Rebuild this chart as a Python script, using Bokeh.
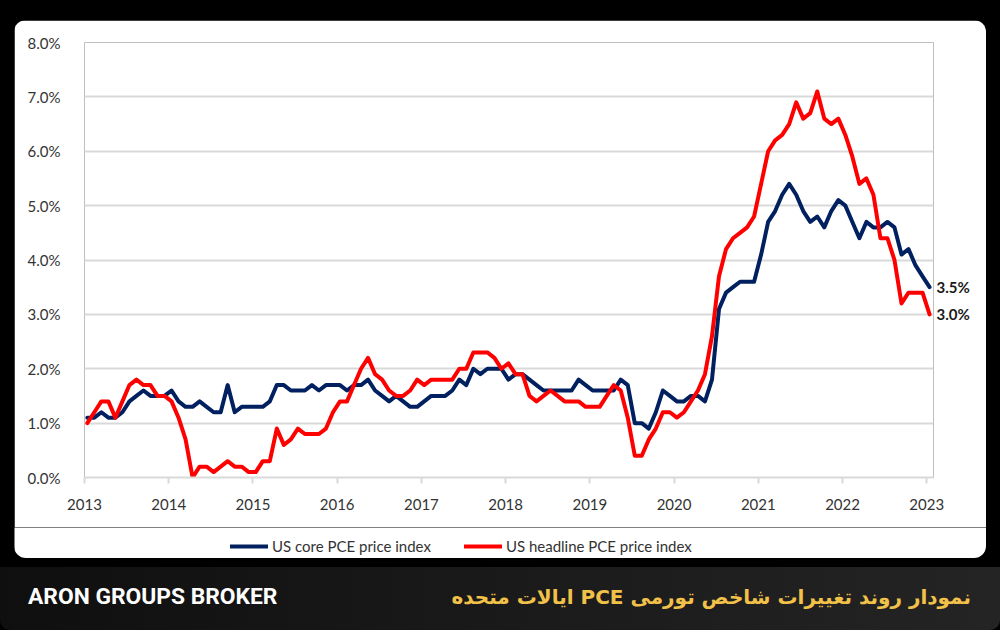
import numpy as np
from bokeh.plotting import figure
from bokeh.models import (Range1d, FixedTicker, PrintfTickFormatter, Legend, LegendItem,
                          LinearAxis, Div)
from bokeh.layouts import column
from bokeh.embed import file_html
from bokeh.resources import INLINE

# ---------------- data (monthly, Jan 2013 .. Jan 2023) ----------------
START_YEAR = 2013
MONTH_SHIFT = 0.4  # points sit slightly after the start of each month

core_2013 = [1.1, 1.1, 1.2, 1.1, 1.1, 1.2, 1.4, 1.5, 1.6, 1.5, 1.5, 1.5]
core_2014 = [1.6, 1.4, 1.3, 1.3, 1.4, 1.3, 1.2, 1.2, 1.7, 1.2, 1.3, 1.3]
core_2015 = [1.3, 1.3, 1.4, 1.7, 1.7, 1.6, 1.6, 1.6, 1.7, 1.6, 1.7, 1.7]
core_2016 = [1.7, 1.6, 1.7, 1.7, 1.8, 1.6, 1.5, 1.4, 1.5, 1.4, 1.3, 1.3]
core_2017 = [1.4, 1.5, 1.5, 1.5, 1.6, 1.8, 1.7, 2.0, 1.9, 2.0, 2.0, 2.0]
core_2018 = [1.8, 1.9, 1.9, 1.8, 1.7, 1.6, 1.6, 1.6, 1.6, 1.6, 1.8, 1.7]
core_2019 = [1.6, 1.6, 1.6, 1.6, 1.8, 1.7, 1.0, 1.0, 0.9, 1.2, 1.6, 1.5]
core_2020 = [1.4, 1.4, 1.5, 1.5, 1.4, 1.8, 3.1, 3.4, 3.5, 3.6, 3.6, 3.6]
core_2021 = [4.1, 4.7, 4.9, 5.2, 5.4, 5.2, 4.9, 4.7, 4.8, 4.6, 4.9, 5.1]
core_2022 = [5.0, 4.7, 4.4, 4.7, 4.6, 4.6, 4.7, 4.6, 4.1, 4.2, 3.9, 3.7]
core_2023 = [3.5]

head_2013 = [1.0, 1.2, 1.4, 1.4, 1.1, 1.4, 1.7, 1.8, 1.7, 1.7, 1.5, 1.5]
head_2014 = [1.4, 1.1, 0.7, 0.0, 0.2, 0.2, 0.1, 0.2, 0.3, 0.2, 0.2, 0.1]
head_2015 = [0.1, 0.3, 0.3, 0.9, 0.6, 0.7, 0.9, 0.8, 0.8, 0.8, 0.9, 1.2]
head_2016 = [1.4, 1.4, 1.7, 2.0, 2.2, 1.9, 1.8, 1.6, 1.5, 1.5, 1.6, 1.8]
head_2017 = [1.7, 1.8, 1.8, 1.8, 1.8, 2.0, 2.0, 2.3, 2.3, 2.3, 2.2, 2.0]
head_2018 = [2.1, 1.9, 1.9, 1.5, 1.4, 1.5, 1.6, 1.5, 1.4, 1.4, 1.4, 1.3]
head_2019 = [1.3, 1.3, 1.5, 1.7, 1.6, 1.1, 0.4, 0.4, 0.7, 0.9, 1.2, 1.2]
head_2020 = [1.1, 1.2, 1.4, 1.6, 1.9, 2.6, 3.7, 4.2, 4.4, 4.5, 4.6, 4.8]
head_2021 = [5.4, 6.0, 6.2, 6.3, 6.5, 6.9, 6.6, 6.7, 7.1, 6.6, 6.5, 6.6]
head_2022 = [6.3, 5.9, 5.4, 5.5, 5.2, 4.4, 4.4, 4.0, 3.2, 3.4, 3.4, 3.4]
head_2023 = [3.0]

core = (core_2013 + core_2014 + core_2015 + core_2016 + core_2017 + core_2018
        + core_2019 + core_2020 + core_2021 + core_2022 + core_2023)
headline = (head_2013 + head_2014 + head_2015 + head_2016 + head_2017 + head_2018
            + head_2019 + head_2020 + head_2021 + head_2022 + head_2023)

year_ticks = [2013, 2014, 2015, 2016, 2017, 2018, 2019, 2020, 2021, 2022, 2023]
pct_ticks = [0, 1, 2, 3, 4, 5, 6, 7, 8]

series_names = ["US core PCE price index", "US headline PCE price index"]
brand = "ARON GROUPS BROKER"
title_fa = "نمودار روند تغییرات شاخص تورمی PCE ایالات متحده"

months = np.arange(len(core))
x = START_YEAR + (months + MONTH_SHIFT) / 12.0

FONT = "Lato"
NAVY = "#002060"
RED = "#FF0000"
LABEL_COLOR = "#333333"

# ---------------- chart panel ----------------
p = figure(frame_width=849, frame_height=435,
           x_range=Range1d(2013, 2023.08), y_range=Range1d(0, 8),
           output_backend="svg", toolbar_location=None,
           min_border_left=70, min_border_right=53, min_border_top=22, min_border_bottom=50,
           background_fill_color="white", border_fill_color="white", outline_line_color=None)
p.frame_align = False
p.margin = (20, 14, 0, 14)
p.styles = {"border-radius": "12px 12px 0 0", "overflow": "hidden"}

p.xgrid.visible = False
p.ygrid.grid_line_color = "#d9d9d9"
p.ygrid.grid_line_width = 2
p.ygrid.ticker = FixedTicker(ticks=pct_ticks)

p.yaxis.ticker = FixedTicker(ticks=pct_ticks)
p.yaxis.formatter = PrintfTickFormatter(format="%.1f%%")
p.yaxis.axis_line_color = None
p.yaxis.major_tick_line_color = None
p.yaxis.minor_tick_line_color = None
p.yaxis.major_label_standoff = 18
p.yaxis.major_label_text_font = FONT
p.yaxis.major_label_text_font_size = "15px"
p.yaxis.major_label_text_color = LABEL_COLOR

p.xaxis.ticker = FixedTicker(ticks=year_ticks)
p.xaxis.formatter = PrintfTickFormatter(format="%d")
p.xaxis.axis_line_color = "#d9d9d9"
p.xaxis.axis_line_width = 2
p.xaxis.major_tick_line_color = "#d9d9d9"
p.xaxis.major_tick_line_width = 2
p.xaxis.major_tick_out = 6
p.xaxis.major_tick_in = 0
p.xaxis.minor_tick_line_color = None
p.xaxis.major_label_standoff = 15
p.xaxis.major_label_text_font = FONT
p.xaxis.major_label_text_font_size = "15px"
p.xaxis.major_label_text_color = LABEL_COLOR

r_core = p.line(x, core, line_color=NAVY, line_width=4, line_join="round", line_cap="round")
r_head = p.line(x, headline, line_color=RED, line_width=4, line_join="round", line_cap="round")

# end-of-series value labels, drawn by a right-hand axis ticked at the last values
end_axis = LinearAxis(ticker=FixedTicker(ticks=[core[-1], headline[-1]]),
                      formatter=PrintfTickFormatter(format="%.1f%%"))
end_axis.axis_line_color = None
end_axis.major_tick_line_color = None
end_axis.major_tick_out = 0
end_axis.major_tick_in = 0
end_axis.minor_tick_line_color = None
end_axis.minor_tick_out = 0
end_axis.major_label_standoff = 3
end_axis.major_label_text_font = FONT
end_axis.major_label_text_font_style = "bold"
end_axis.major_label_text_font_size = "15px"
end_axis.major_label_text_color = "#1a1a1a"
p.add_layout(end_axis, "right")

# ---------------- legend strip (bottom of the white panel) ----------------
leg = figure(frame_width=972, frame_height=31, x_range=Range1d(0, 972), y_range=Range1d(0, 31),
             output_backend="svg", toolbar_location=None, x_axis_type=None, y_axis_type=None,
             min_border_left=0, min_border_right=0, min_border_top=0, min_border_bottom=0,
             background_fill_color="white", border_fill_color="white", outline_line_color=None)
leg.frame_align = False
leg.margin = (0, 14, 0, 14)
leg.styles = {"border-radius": "0 0 12px 12px", "overflow": "hidden"}
# legend keys: same styling as the series; they hold only the series' last point,
# which lies outside this strip's ranges, so nothing but the key is drawn
k_core = leg.line(x=[x[-1]], y=[core[-1]], line_color=NAVY, line_width=4, line_cap="round")
k_head = leg.line(x=[x[-1]], y=[headline[-1]], line_color=RED, line_width=4, line_cap="round")
legend = Legend(items=[LegendItem(label=series_names[0], renderers=[k_core]),
                       LegendItem(label=series_names[1], renderers=[k_head])],
                orientation="horizontal", location=(216, 2),
                glyph_width=38, glyph_height=20, label_standoff=4, spacing=33,
                padding=0, margin=0, border_line_color=None, background_fill_alpha=0,
                label_text_font=FONT, label_text_font_size="15px", label_text_color=LABEL_COLOR)
leg.add_layout(legend)

# ---------------- bottom band ----------------
band_html = (
    '<div style="display:flex;justify-content:space-between;align-items:center;'
    'width:1000px;height:63px;padding:0 29px 2px 28px;box-sizing:border-box;">'
    '<span style="font-family:Roboto;font-weight:700;font-size:22.8px;color:#ffffff;">'
    f'{brand}</span>'
    '<span dir="rtl" style="font-family:\'DejaVu Sans\';font-weight:700;font-size:20px;'
    f'color:#F2C14A;">{title_fa}</span></div>'
)
band = Div(text=band_html, width=1000, height=63, margin=(9, 0, 0, 0),
           styles={"background": "linear-gradient(90deg, #0f0f0f 0%, #1c1c1c 60%, #242424 100%)",
                   "border-radius": "0 0 10px 10px"})

layout = column(p, leg, band, styles={"background-color": "#000000"})

html = file_html(layout, INLINE, title="US PCE")
html = html.replace("</head>", "<style>html,body{margin:0;padding:0;background:#000000;}</style></head>", 1)
open("out.html", "w").write(html)
